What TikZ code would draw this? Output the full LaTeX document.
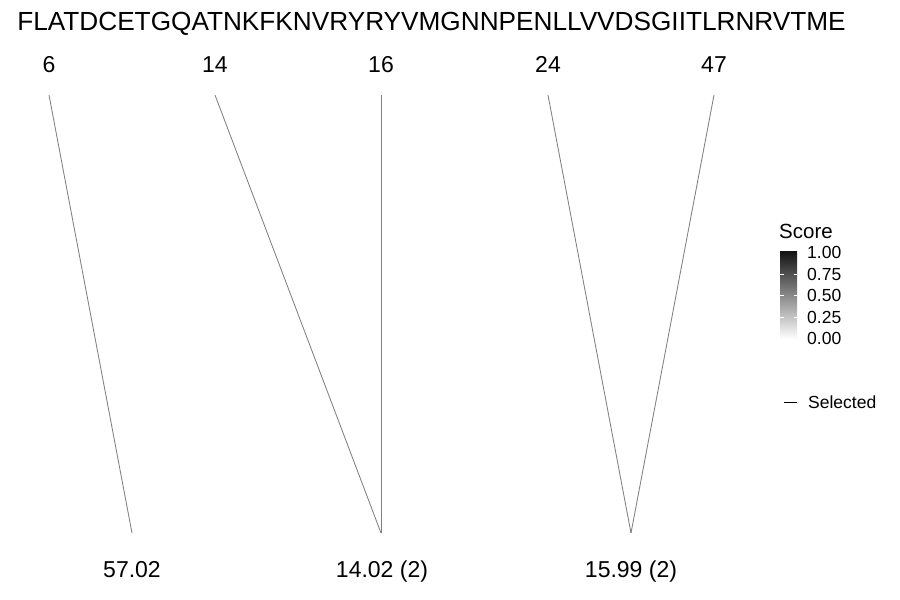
\documentclass[tikz,border=0pt]{standalone}
\usepackage{fontspec}
\setmainfont{Liberation Sans}
\begin{document}
\begin{tikzpicture}[x=1pt,y=-1pt,
  txt/.style={inner sep=0pt,anchor=base},
  seqtxt/.style={txt,font=\fontsize{26.2}{27}\selectfont},
  postxt/.style={txt,font=\fontsize{23}{23}\selectfont},
  masstxt/.style={txt,font=\fontsize{23}{23}\selectfont},
  legtitle/.style={inner sep=0pt,anchor=base west,font=\fontsize{20.5}{21}\selectfont},
  legtxt/.style={inner sep=0pt,anchor=base west,font=\fontsize{17.5}{18}\selectfont},
  link/.style={draw=black!50,line width=0.85pt},
]
\useasboundingbox (0,0) rectangle (900,600);
% sequence
\node[seqtxt] (seq) at (431.5,30) {FLATDCETGQATNKFKNVRYRYVMGNNPENLLVVDSGIITLRNRVTME};
% positions
\node[postxt] (p6) at (49,72) {6};
\node[postxt] (p14) at (215,72) {14};
\node[postxt] (p16) at (381,72) {16};
\node[postxt] (p24) at (548,72) {24};
\node[postxt] (p47) at (714,72) {47};
% line ends
\coordinate (t6) at (49,95);
\coordinate (t14) at (215,95);
\coordinate (t16) at (381,95);
\coordinate (t24) at (548,95);
\coordinate (t47) at (714,95);
\coordinate (b1) at (132,533);
\coordinate (b2) at (381,533);
\coordinate (b3) at (631,533);
\draw[link] (t6) -- (b1);
\draw[link] (t14) -- (b2);
\draw[link] (t16) -- (b2);
\draw[link] (t24) -- (b3);
\draw[link] (t47) -- (b3);
% masses
\node[masstxt] (m1) at (132,577) {57.02};
\node[masstxt] (m2) at (382,577) {14.02 (2)};
\node[masstxt] (m3) at (631,577) {15.99 (2)};
% legend
\node[legtitle] (score) at (779,238) {Score};
\shade[top color=black!93,bottom color=white] (780,251) rectangle (797,339);
\foreach \yy in {274,295.5,317}{
  \draw[white,line width=0.6pt] (780,\yy) -- (783.5,\yy);
  \draw[white,line width=0.6pt] (793.5,\yy) -- (797,\yy);
}
\node[legtxt] (l100) at (807,258.5) {1.00};
\node[legtxt] (l075) at (807,280) {0.75};
\node[legtxt] (l050) at (807,301.5) {0.50};
\node[legtxt] (l025) at (807,323) {0.25};
\node[legtxt] (l000) at (807,344.5) {0.00};
\coordinate (s1) at (784,402);
\coordinate (s2) at (797,402);
\draw[draw=black,line width=0.6pt] (s1) -- (s2);
\node[legtxt] (sel) at (808,408) {Selected};
\end{tikzpicture}
\end{document}
